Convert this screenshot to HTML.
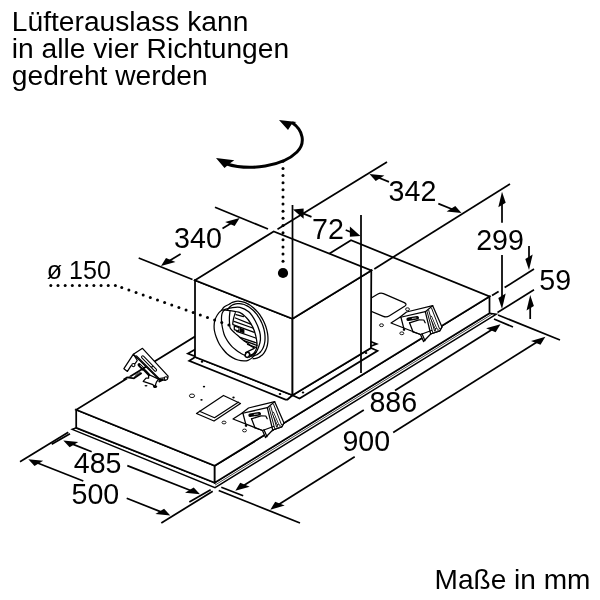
<!DOCTYPE html>
<html>
<head>
<meta charset="utf-8">
<title>Maße</title>
<style>
html,body{margin:0;padding:0;background:#fff;}
body{width:600px;height:600px;overflow:hidden;position:relative;font-family:"Liberation Sans",sans-serif;color:#000;}
svg{position:absolute;left:0;top:0;will-change:transform;opacity:0.999;}
text{font-family:"Liberation Sans",sans-serif;fill:#000;}
.t{font-size:28.2px;}
.t2{font-size:28.05px;}
.d{font-size:28.6px;}
.s{font-size:25.1px;}
.l{stroke:#000;stroke-width:1.75;fill:none;stroke-linecap:butt;stroke-linejoin:miter;}
.w{stroke:#000;stroke-width:1.75;fill:#fff;stroke-linejoin:miter;}
.w2{stroke:#000;stroke-width:1.4;fill:#fff;stroke-linejoin:miter;}
.th2{stroke:#000;stroke-width:0.7;fill:none;}
.th3{stroke:#000;stroke-width:0.95;fill:none;}
.th{stroke:#000;stroke-width:0.9;fill:none;stroke-linejoin:round;}
.thw{stroke:#000;stroke-width:0.9;fill:#fff;stroke-linejoin:round;}
.dot{stroke:#000;stroke-width:2.5;fill:none;stroke-dasharray:0.01 4.65;stroke-linecap:round;}
.dot2{stroke:#000;stroke-width:2.5;fill:none;stroke-dasharray:0.01 7.4;stroke-linecap:round;}
.du{stroke:#000;stroke-width:1.25;fill:none;stroke-linejoin:round;stroke-linecap:round;}
.dw{stroke:#000;stroke-width:1.25;fill:#fff;stroke-linejoin:round;}
.a{fill:#000;stroke:none;}
.k{fill:#000;stroke:none;}
.wf{fill:#fff;stroke:none;}
</style>
</head>
<body>
<svg width="600" height="600" viewBox="0 0 600 600">
<text class="t" x="11.8" y="30.5">Lüfterauslass kann</text>
<text class="t" x="11.8" y="58">in alle vier Richtungen</text>
<text class="t" x="11.8" y="85.3">gedreht werden</text>
<text class="t2" x="434.6" y="589">Maße in mm</text>
<path class="w2" d="M72.2 429.3 L215.0 487.6 L496.4 314.2 L489.5 313.2 L214.7 482.7 L76.2 427.8 Z"/>
<path class="th2" d="M215.0 485.1 L492.8 313.7"/>
<path class="w" d="M76.2 409.8 L214.7 465.8 L214.7 482.7 L76.2 427.8 Z"/>
<path class="w" d="M214.7 465.8 L489.5 296.5 L489.5 313.2 L214.7 482.7 Z"/>
<path class="w" d="M76.2 409.8 L214.7 465.8 L489.5 296.5 L351.0 240.3 Z"/>
<path class="dw" d="M196.5 413.5 L223.5 395.5 L240.5 403.5 L214.0 421.0 Z"/>
<path class="du" d="M199.5 411.2 L214.5 417.7 L238.3 402.2"/>
<path class="dw" d="M362 303.5 L377.5 294.2 Q380.5 292.4 383.5 293.6 L404.3 302.6 Q407.6 304.2 404.6 306.3 L389.5 315.7 Q386.5 317.6 383.3 316.3 L362 307.5 Z"/>
<ellipse cx="192" cy="395.8" rx="2.6" ry="1.8" fill="#fff" stroke="#000" stroke-width="0.9"/>
<ellipse cx="224" cy="422.5" rx="2.0" ry="1.4" fill="#fff" stroke="#000" stroke-width="0.9"/>
<ellipse cx="244.5" cy="430.5" rx="2.0" ry="1.4" fill="#fff" stroke="#000" stroke-width="0.9"/>
<ellipse cx="381.5" cy="325.2" rx="2.0" ry="1.4" fill="#fff" stroke="#000" stroke-width="0.9"/>
<ellipse cx="401.8" cy="333.3" rx="2.0" ry="1.4" fill="#fff" stroke="#000" stroke-width="0.9"/>
<ellipse cx="407.5" cy="309.2" rx="2.0" ry="1.4" fill="#fff" stroke="#000" stroke-width="0.9"/>
<ellipse class="k" cx="204" cy="386.6" rx="1.2" ry="0.9"/>
<ellipse class="k" cx="201.5" cy="399.8" rx="1.2" ry="0.9"/>
<ellipse class="k" cx="233.5" cy="397.5" rx="1.2" ry="0.9"/>
<path class="dw" d="M233.0 419.0 L241.5 413.5 L248.5 408.0 L274.7 401.7 L284.0 423.0 L281.7 427.0 L272.7 430.0 L265.5 437.5 L262.5 430.5 Z"/>
<path class="du" d="M241.5 413.5 L267.3 407.7 L274.7 401.7"/>
<path class="du" d="M267.3 407.7 L272.7 430.0"/>
<path class="th3" d="M269.0 407.2 L274.8 428.9"/>
<path class="th3" d="M270.6 406.0 L276.7 427.5"/>
<path class="th3" d="M273.5 404.0 L281.6 425.0"/>
<path class="du" d="M272.7 430.0 L281.7 427.0 L284.0 423.0"/>
<path d="M273.0 413.0 L277.6 423.8" stroke="#000" stroke-width="2.3" stroke-linecap="round" fill="none"/>
<path d="M273.0 413.0 L277.6 423.8" stroke="#fff" stroke-width="1.0" stroke-linecap="round" fill="none"/>
<path class="du" d="M243.0 413.5 L246.2 425.8"/>
<path class="du" d="M251.5 418.8 L255.0 427.8"/>
<path class="du" d="M251.5 418.8 L261.0 415.8 L265.8 416.0 L267.2 418.8"/>
<path class="du" d="M255.0 427.8 L262.5 430.5"/>
<path class="du" d="M262.5 430.5 L273.5 426.5"/>
<path class="du" d="M264.0 429.8 L267.0 436.7"/>
<path d="M250.2 415.2 L259.2 413.8" stroke="#000" stroke-width="3.6" stroke-linecap="round" fill="none"/>
<path d="M254.2 414.5 L258.0 414.0" stroke="#fff" stroke-width="0.7" stroke-linecap="round" fill="none"/>
<ellipse class="k" cx="246.0" cy="425.8" rx="1.32" ry="0.9900000000000001"/>
<circle cx="278.7" cy="426.1" r="1.5" fill="#fff" stroke="#000" stroke-width="0.9"/>
<path class="dw" d="M391.0 323.0 L399.5 317.5 L406.5 312.0 L432.7 305.7 L442.0 327.0 L439.7 331.0 L430.7 334.0 L423.5 341.5 L420.5 334.5 Z"/>
<path class="du" d="M399.5 317.5 L425.3 311.7 L432.7 305.7"/>
<path class="du" d="M425.3 311.7 L430.7 334.0"/>
<path class="th3" d="M427.0 311.2 L432.8 332.9"/>
<path class="th3" d="M428.6 310.0 L434.7 331.5"/>
<path class="th3" d="M431.5 308.0 L439.6 329.0"/>
<path class="du" d="M430.7 334.0 L439.7 331.0 L442.0 327.0"/>
<path d="M431.0 317.0 L435.6 327.8" stroke="#000" stroke-width="2.3" stroke-linecap="round" fill="none"/>
<path d="M431.0 317.0 L435.6 327.8" stroke="#fff" stroke-width="1.0" stroke-linecap="round" fill="none"/>
<path class="du" d="M401.0 317.5 L404.2 329.8"/>
<path class="du" d="M409.5 322.8 L413.0 331.8"/>
<path class="du" d="M409.5 322.8 L419.0 319.8 L423.8 320.0 L425.2 322.8"/>
<path class="du" d="M413.0 331.8 L420.5 334.5"/>
<path class="du" d="M420.5 334.5 L431.5 330.5"/>
<path class="du" d="M422.0 333.8 L425.0 340.7"/>
<path d="M408.2 319.2 L417.2 317.8" stroke="#000" stroke-width="3.6" stroke-linecap="round" fill="none"/>
<path d="M412.2 318.5 L416.0 318.0" stroke="#fff" stroke-width="0.7" stroke-linecap="round" fill="none"/>
<ellipse class="k" cx="404.0" cy="329.8" rx="1.32" ry="0.9900000000000001"/>
<circle cx="436.7" cy="330.1" r="1.5" fill="#fff" stroke="#000" stroke-width="0.9"/>
<path class="wf" d="M125.2 378.2 L127.4 376.2 L134.3 377.4 L142.1 372.2 L146.0 378.2 L158.1 384.7 L154.7 388.2 L143.4 382.1 L133.0 379.5 L126.1 379.1 Z"/>
<path class="l" d="M123.5 379.7 L127.1 377.4 L133.9 378.3 L141.7 373.1"/>
<path class="th2" d="M134.3 376.8 L140.8 372.4"/>
<path class="th2" d="M134.9 375.4 L140.1 371.9"/>
<path class="dw" d="M143.2 381.3 L146.0 378.2 L148.6 378.2 L148.6 374.5 L158.6 379.1 L156.4 382.1 L154.7 387.3 L152.9 384.7 Z"/>
<ellipse class="k" cx="155.1" cy="386.5" rx="2.0" ry="1.5"/>
<ellipse class="k" cx="146.0" cy="385.8" rx="1.5" ry="0.8"/>
<path d="M139.2 364.8 L143.2 369.0" stroke="#000" stroke-width="3.3" stroke-linecap="round" fill="none"/>
<path d="M140.5 365.5 L142.4 367.4" stroke="#fff" stroke-width="0.7" stroke-linecap="round" fill="none"/>
<path d="M144.7 370.4 L149.0 374.8" stroke="#000" stroke-width="2.6" stroke-linecap="round" fill="none"/>
<path class="dw" d="M133.4 354.2 L123.9 368.7 L127.4 371.4 L131.1 365.7 L135.4 363.2 L137.3 360.5 Z"/>
<circle cx="133.4" cy="365.1" r="1.6" fill="#fff" stroke="#000" stroke-width="1.1"/>
<path class="dw" d="M133.4 354.2 L142.5 348.3 L168.1 376.1 L167.7 378.5 L165.1 380.4 L158.6 379.1 Z"/>
<path class="du" d="M136.5 355.9 L159.0 378.5"/>
<path class="du" d="M159.0 378.5 L167.5 377.4"/>
<path d="M142.7 357.0 L155.4 370.0" stroke="#000" stroke-width="3.3" stroke-linecap="round" fill="none"/>
<path d="M142.7 357.0 L155.4 370.0" stroke="#fff" stroke-width="1.2" stroke-linecap="round" fill="none"/>
<ellipse class="k" cx="152.2" cy="366.7" rx="1.0" ry="0.8"/>
<circle cx="165.9" cy="378.4" r="1.6" fill="#fff" stroke="#000" stroke-width="1.1"/>
<path d="M159.4 381.3 L162.5 379.7" stroke="#000" stroke-width="2.2" stroke-linecap="round" fill="none"/>
<path class="w" d="M195.0 349.6 L187.9 353.5 L195.0 356.3 Z"/>
<path class="w" d="M370.5 341.5 L376.5 344.0 L370.5 346.2 Z"/>
<path class="w" d="M195.0 357.0 L193.3 358.3 L189.2 360.8 L285.5 399.5 L287.5 399.5 L292.5 395.2 Z"/>
<path class="w" d="M292.5 395.2 L299.5 398.5 L377.5 350.8 L370.9 348.0 Z"/>
<ellipse class="k" cx="202" cy="361.7" rx="1.3" ry="1.0"/>
<ellipse class="k" cx="280" cy="394" rx="1.3" ry="1.0"/>
<ellipse class="k" cx="303" cy="392.5" rx="1.3" ry="1.0"/>
<ellipse class="k" cx="366" cy="353" rx="1.3" ry="1.0"/>
<path class="w" d="M195.0 280.3 L292.5 318.8 L292.5 395.2 L195.0 357.0 Z"/>
<path class="w" d="M292.5 318.8 L371.3 270.4 L370.9 348.0 L292.5 395.2 Z"/>
<path class="w" d="M195.0 280.3 L273.7 231.4 L371.3 270.4 L292.5 318.8 Z"/>
<path class="du" d="M253.06 358.76 C253.37 358.73 254.32 358.67 254.93 358.57 C255.54 358.47 256.14 358.33 256.73 358.15 C257.31 357.98 257.88 357.76 258.43 357.51 C258.98 357.26 259.52 356.97 260.03 356.65 C260.54 356.33 261.04 355.97 261.51 355.58 C261.98 355.18 262.44 354.76 262.86 354.30 C263.29 353.84 263.70 353.35 264.08 352.83 C264.45 352.30 264.81 351.75 265.14 351.17 C265.46 350.59 265.77 349.98 266.04 349.35 C266.31 348.71 266.56 348.05 266.78 347.37 C266.99 346.68 267.18 345.97 267.34 345.25 C267.50 344.52 267.63 343.77 267.73 343.01 C267.83 342.24 267.90 341.46 267.94 340.66 C267.98 339.87 267.99 339.06 267.97 338.23 C267.95 337.41 267.90 336.58 267.82 335.74 C267.74 334.90 267.63 334.05 267.49 333.20 C267.34 332.35 267.17 331.49 266.98 330.63 C266.78 329.78 266.55 328.91 266.29 328.06 C266.04 327.21 265.75 326.35 265.44 325.50 C265.13 324.66 264.79 323.81 264.43 322.98 C264.07 322.15 263.68 321.33 263.26 320.52 C262.85 319.71 262.41 318.91 261.96 318.13 C261.50 317.35 261.01 316.58 260.51 315.84 C260.01 315.09 259.49 314.36 258.95 313.66 C258.41 312.95 257.85 312.27 257.28 311.61 C256.70 310.95 256.11 310.31 255.51 309.71 C254.91 309.10 254.29 308.52 253.66 307.96 C253.03 307.41 252.39 306.89 251.74 306.40 C251.09 305.91 250.44 305.45 249.77 305.03 C249.11 304.60 248.44 304.21 247.77 303.85 C247.10 303.49 246.42 303.17 245.75 302.88 C245.07 302.60 244.39 302.35 243.72 302.13 C243.04 301.92 242.37 301.74 241.70 301.61 C241.04 301.47 240.37 301.37 239.72 301.31 C239.06 301.25 238.41 301.22 237.78 301.24 C237.14 301.25 236.51 301.30 235.89 301.40 C235.28 301.49 234.68 301.62 234.09 301.78 C233.50 301.95 232.93 302.16 232.37 302.40 C231.82 302.64 231.28 302.92 230.76 303.23 C230.24 303.55 230.32 303.69 229.26 304.28 C228.20 304.88 225.68 305.81 224.40 306.80 C223.12 307.79 222.07 309.63 221.60 310.20"/>
<path class="du" d="M251.06 356.08 C251.36 356.06 252.29 356.04 252.89 355.95 C253.49 355.87 254.08 355.75 254.65 355.58 C255.22 355.42 255.78 355.21 256.31 354.97 C256.85 354.73 257.37 354.44 257.87 354.12 C258.37 353.80 258.85 353.44 259.31 353.05 C259.76 352.65 260.20 352.22 260.60 351.75 C261.01 351.29 261.40 350.78 261.75 350.25 C262.11 349.72 262.44 349.15 262.75 348.56 C263.05 347.97 263.32 347.34 263.57 346.69 C263.81 346.04 264.03 345.37 264.22 344.67 C264.40 343.97 264.56 343.24 264.68 342.50 C264.81 341.76 264.90 340.99 264.96 340.22 C265.02 339.44 265.05 338.64 265.05 337.83 C265.05 337.03 265.01 336.20 264.95 335.38 C264.89 334.55 264.79 333.71 264.66 332.87 C264.53 332.03 264.37 331.18 264.19 330.33 C264.00 329.48 263.78 328.63 263.53 327.78 C263.28 326.94 263.00 326.09 262.70 325.26 C262.39 324.43 262.06 323.59 261.70 322.78 C261.34 321.96 260.95 321.15 260.54 320.36 C260.13 319.57 259.69 318.79 259.23 318.03 C258.77 317.28 258.29 316.53 257.79 315.82 C257.29 315.10 256.76 314.40 256.23 313.73 C255.69 313.06 255.13 312.41 254.56 311.79 C253.98 311.18 253.39 310.59 252.79 310.03 C252.19 309.47 251.58 308.94 250.96 308.45 C250.33 307.95 249.70 307.49 249.06 307.06 C248.42 306.64 247.78 306.25 247.13 305.90 C246.48 305.54 245.82 305.23 245.17 304.95 C244.52 304.68 243.86 304.44 243.21 304.24 C242.56 304.04 241.91 303.89 241.27 303.77 C240.62 303.65 239.98 303.58 239.35 303.54 C238.73 303.51 238.10 303.51 237.49 303.56 C236.88 303.61 236.28 303.70 235.70 303.83 C235.12 303.96 234.55 304.13 233.99 304.33 C233.44 304.54 232.90 304.79 232.39 305.08 C231.87 305.37 231.37 305.70 230.90 306.06 C230.42 306.42 229.97 306.83 229.54 307.26 C229.11 307.70 228.70 308.17 228.32 308.67 C227.94 309.18 227.44 310.02 227.26 310.29"/>
<path class="du" d="M221.30 310.60 C222.50 309.70 222.88 310.07 224.50 309.60 C226.12 309.13 228.42 308.18 231.00 307.80 C233.58 307.42 237.05 306.63 240.00 307.30 C242.95 307.97 246.15 309.52 248.70 311.80 C251.25 314.08 253.48 317.72 255.30 321.00 C257.12 324.28 258.75 328.33 259.60 331.50 C260.45 334.67 260.57 337.42 260.40 340.00 C260.23 342.58 259.35 344.88 258.60 347.00 C257.85 349.12 256.95 350.93 255.90 352.70 C254.85 354.47 253.62 356.33 252.30 357.60 C250.98 358.87 249.38 359.75 248.00 360.30 C246.62 360.85 245.67 360.95 244.00 360.90 C242.33 360.85 239.92 360.55 238.00 360.00 C236.08 359.45 234.28 358.60 232.50 357.60 C230.72 356.60 228.92 355.43 227.30 354.00 C225.68 352.57 224.13 350.67 222.80 349.00 C221.47 347.33 220.40 346.00 219.30 344.00 C218.20 342.00 217.00 339.17 216.20 337.00 C215.40 334.83 214.85 332.83 214.50 331.00 C214.15 329.17 214.05 327.75 214.10 326.00 C214.15 324.25 214.27 322.33 214.80 320.50 C215.33 318.67 216.22 316.65 217.30 315.00 C218.38 313.35 220.10 311.50 221.30 310.60 Z"/>
<path class="du" d="M224.60 310.20 C225.83 309.92 227.43 310.20 230.00 310.60 C232.57 311.00 237.33 311.48 240.00 312.60 C242.67 313.72 244.22 315.52 246.00 317.30 C247.78 319.08 249.32 321.07 250.70 323.30 C252.08 325.53 253.32 327.92 254.30 330.70 C255.28 333.48 256.17 337.45 256.60 340.00 C257.03 342.55 257.10 344.17 256.90 346.00 C256.70 347.83 256.22 349.57 255.40 351.00 C254.58 352.43 253.68 353.88 252.00 354.60 C250.32 355.32 247.30 355.60 245.30 355.30 C243.30 355.00 241.55 353.68 240.00 352.80 C238.45 351.92 237.33 351.03 236.00 350.00 C234.67 348.97 233.22 347.82 232.00 346.60 C230.78 345.38 229.73 344.13 228.70 342.70 C227.67 341.27 226.58 339.45 225.80 338.00 C225.02 336.55 224.58 335.83 224.00 334.00 C223.42 332.17 222.70 329.00 222.30 327.00 C221.90 325.00 221.72 323.83 221.60 322.00 C221.48 320.17 221.43 317.62 221.60 316.00 C221.77 314.38 222.10 313.27 222.60 312.30 C223.10 311.33 223.37 310.48 224.60 310.20 Z"/>
<path class="du" d="M230.00 311.30 C229.90 312.30 229.47 315.18 229.40 317.30 C229.33 319.42 229.43 322.15 229.60 324.00 C229.77 325.85 229.55 326.92 230.40 328.40 C231.25 329.88 233.18 331.47 234.70 332.90 C236.22 334.33 238.00 335.73 239.50 337.00 C241.00 338.27 242.28 339.40 243.70 340.50 C245.12 341.60 246.78 342.68 248.00 343.60 C249.22 344.52 249.90 345.23 251.00 346.00 C252.10 346.77 254.00 347.83 254.60 348.20"/>
<path class="du" d="M235.30 312.70 C235.02 313.67 234.03 316.62 233.60 318.50 C233.17 320.38 232.85 323.08 232.70 324.00"/>
<path class="du" d="M236.0 314.6 L243.5 316.6"/>
<path class="du" d="M235.4 318.0 L250.7 324.1"/>
<path class="du" d="M234.0 321.3 L252.7 328.0"/>
<path class="du" d="M233.0 324.7 L254.3 332.3"/>
<path class="du" d="M236.7 331.3 L255.7 338.0"/>
<path class="du" d="M240.0 337.3 L256.7 343.0"/>
<path class="du" d="M244.0 340.7 L257.0 345.4"/>
<path class="du" d="M247.5 344.4 L256.5 347.7"/>
<path class="du" d="M234.3 326.0 L239.0 327.7 L239.0 331.3 L234.3 329.6 Z"/>
<path class="k" d="M240.0 327.8 L244.4 329.4 L244.4 333.6 L240.0 332.0 Z"/>
<path class="du" d="M245.6 352.6 L253.7 348.6"/>
<path class="du" d="M249.3 357.2 L256.0 352.3"/>
<ellipse cx="247.4" cy="354.8" rx="2.1" ry="2.6" transform="rotate(28 247.4 354.8)" fill="#fff" stroke="#000" stroke-width="1.5"/>
<path class="l" d="M138.7 258.0 L192.5 279.5"/>
<path class="l" d="M215.0 207.3 L268.0 229.0"/>
<path class="a" d="M161.0 266.0 L175.5 262.0 L166.0 258.1 Z"/>
<path class="l" d="M167.8 261.8 L180.6 254.0"/>
<path class="a" d="M239.6 218.0 L234.6 225.9 L225.1 222.0 Z"/>
<path class="l" d="M232.8 222.2 L222.5 228.4"/>
<text class="d" x="174.1" y="247.5">340</text>
<path class="l" d="M292.5 205.0 L292.5 319.0"/>
<path class="l" d="M361.0 215.0 L361.0 373.0"/>
<path class="a" d="M293.0 209.4 L303.6 218.8 L303.6 208.6 Z"/>
<path class="l" d="M300.4 212.4 L311.5 216.9"/>
<path class="a" d="M360.5 236.0 L349.9 236.8 L349.9 226.6 Z"/>
<path class="l" d="M353.1 233.0 L345.7 230.0"/>
<text class="d" x="312.1" y="238.8">72</text>
<path class="l" d="M387.0 162.0 L277.5 229.3"/>
<path class="l" d="M510.0 184.0 L374.3 268.9"/>
<path class="a" d="M369.5 174.0 L384.4 175.6 L375.7 180.9 Z"/>
<path class="l" d="M376.9 177.0 L389.0 181.9"/>
<path class="a" d="M461.5 213.0 L455.3 206.1 L446.6 211.4 Z"/>
<path class="l" d="M454.1 210.0 L438.3 203.6"/>
<text class="d" x="388.6" y="200.5">342</text>
<path class="a" d="M502.0 191.7 L505.7 202.8 L498.3 207.2 Z"/>
<path class="l" d="M502.0 199.7 L502.0 222.7"/>
<path class="a" d="M502.0 309.0 L505.7 293.5 L498.3 297.9 Z"/>
<path class="l" d="M502.0 301.0 L502.0 255.0"/>
<text class="d" x="476.2" y="250.2">299</text>
<path class="l" d="M492.0 295.6 L498.6 291.4"/>
<path class="l" d="M504.6 287.6 L534.0 269.0"/>
<path class="l" d="M497.5 312.5 L534.0 289.8"/>
<path class="a" d="M529.0 270.0 L532.7 254.5 L525.3 258.9 Z"/>
<path class="l" d="M529.0 262.0 L529.0 246.0"/>
<path class="a" d="M530.2 295.0 L533.9 306.1 L526.5 310.5 Z"/>
<path class="l" d="M530.2 303.0 L530.2 319.0"/>
<text class="d" x="539.3" y="290.2">59</text>
<path class="l" d="M494.0 319.0 L513.0 327.0"/>
<path class="l" d="M498.0 315.0 L560.0 340.0"/>
<path class="l" d="M221.3 487.3 L243.2 495.8"/>
<path class="l" d="M218.7 490.5 L300.0 523.0"/>
<path class="a" d="M235.3 490.8 L249.7 486.7 L240.2 482.8 Z"/>
<path class="a" d="M500.5 324.2 L495.6 332.2 L486.1 328.3 Z"/>
<path class="l" d="M242.1 486.5 L363.8 410.1"/>
<path class="l" d="M395.0 390.5 L493.7 328.5"/>
<path class="a" d="M270.3 509.8 L284.7 505.6 L275.2 501.8 Z"/>
<path class="a" d="M545.4 336.7 L540.5 344.7 L531.0 340.9 Z"/>
<path class="l" d="M277.1 505.5 L354.7 456.7"/>
<path class="l" d="M393.2 432.5 L538.6 341.0"/>
<text class="d" x="369.4" y="412.3">886</text>
<text class="d" x="342.4" y="450.8">900</text>
<path class="l" d="M20.0 461.7 L68.3 432.2"/>
<path class="l" d="M51.7 444.3 L70.0 433.7"/>
<path class="l" d="M161.3 523.0 L212.7 491.3"/>
<path class="l" d="M189.3 502.0 L210.7 489.7"/>
<path class="a" d="M63.3 440.5 L78.3 442.0 L69.6 447.3 Z"/>
<path class="a" d="M200.0 494.2 L193.7 487.4 L185.0 492.7 Z"/>
<path class="l" d="M70.7 443.4 L91.7 451.7"/>
<path class="l" d="M127.3 465.6 L192.6 491.3"/>
<path class="a" d="M28.3 459.2 L43.2 460.8 L34.5 466.1 Z"/>
<path class="a" d="M170.3 515.6 L164.1 508.7 L155.4 514.0 Z"/>
<path class="l" d="M35.7 462.2 L83.3 481.0"/>
<path class="l" d="M126.7 498.3 L162.9 512.6"/>
<text class="d" x="73.8" y="473.4">485</text>
<text class="d" x="71.5" y="504.2">500</text>
<text class="s" x="46.7" y="279.2">ø 150</text>
<circle class="k" cx="50.80" cy="285.50" r="1.5"/>
<circle class="k" cx="57.98" cy="285.50" r="1.5"/>
<circle class="k" cx="65.16" cy="285.50" r="1.5"/>
<circle class="k" cx="72.33" cy="285.50" r="1.5"/>
<circle class="k" cx="79.51" cy="285.50" r="1.5"/>
<circle class="k" cx="86.69" cy="285.50" r="1.5"/>
<circle class="k" cx="93.87" cy="285.50" r="1.5"/>
<circle class="k" cx="101.04" cy="285.50" r="1.5"/>
<circle class="k" cx="108.22" cy="285.50" r="1.5"/>
<circle class="k" cx="115.40" cy="285.50" r="1.5"/>
<circle class="k" cx="121.75" cy="287.50" r="1.5"/>
<circle class="k" cx="128.89" cy="290.01" r="1.5"/>
<circle class="k" cx="136.04" cy="292.51" r="1.5"/>
<circle class="k" cx="143.18" cy="295.02" r="1.5"/>
<circle class="k" cx="150.32" cy="297.53" r="1.5"/>
<circle class="k" cx="157.47" cy="300.03" r="1.5"/>
<circle class="k" cx="164.61" cy="302.54" r="1.5"/>
<circle class="k" cx="171.75" cy="305.05" r="1.5"/>
<circle class="k" cx="178.90" cy="307.55" r="1.5"/>
<circle class="k" cx="186.04" cy="310.06" r="1.5"/>
<circle class="k" cx="193.18" cy="312.57" r="1.5"/>
<circle class="k" cx="200.33" cy="315.07" r="1.5"/>
<circle class="k" cx="207.47" cy="317.58" r="1.5"/>
<circle class="k" cx="214.61" cy="320.09" r="1.5"/>
<circle class="k" cx="221.76" cy="322.59" r="1.5"/>
<circle class="k" cx="228.90" cy="325.10" r="1.5"/>
<circle class="k" cx="283.00" cy="161.26" r="1.5"/>
<circle class="k" cx="283.00" cy="168.40" r="1.5"/>
<circle class="k" cx="283.00" cy="175.54" r="1.5"/>
<circle class="k" cx="283.00" cy="182.68" r="1.5"/>
<circle class="k" cx="283.00" cy="189.81" r="1.5"/>
<circle class="k" cx="283.00" cy="196.95" r="1.5"/>
<circle class="k" cx="283.00" cy="204.09" r="1.5"/>
<circle class="k" cx="283.00" cy="211.23" r="1.5"/>
<circle class="k" cx="283.00" cy="218.37" r="1.5"/>
<circle class="k" cx="283.00" cy="225.51" r="1.5"/>
<circle class="k" cx="283.00" cy="232.65" r="1.5"/>
<circle class="k" cx="283.00" cy="239.78" r="1.5"/>
<circle class="k" cx="283.00" cy="246.92" r="1.5"/>
<circle class="k" cx="283.00" cy="254.06" r="1.5"/>
<circle class="k" cx="283.00" cy="261.20" r="1.5"/>
<circle cx="283" cy="273" r="5.1" class="a"/>
<path d="M226 163.7 C250 171.5 283 166 297 152 C306 143 303 130 292 122.5" stroke="#000" stroke-width="3.0" fill="none"/>
<path class="a" d="M216 158 L234.3 160.3 L230 163.3 L224.5 168 Z"/>
<path class="a" d="M279 120 L296.5 122 L291.5 124.5 L288 130 Z"/>
</svg>
</body>
</html>
